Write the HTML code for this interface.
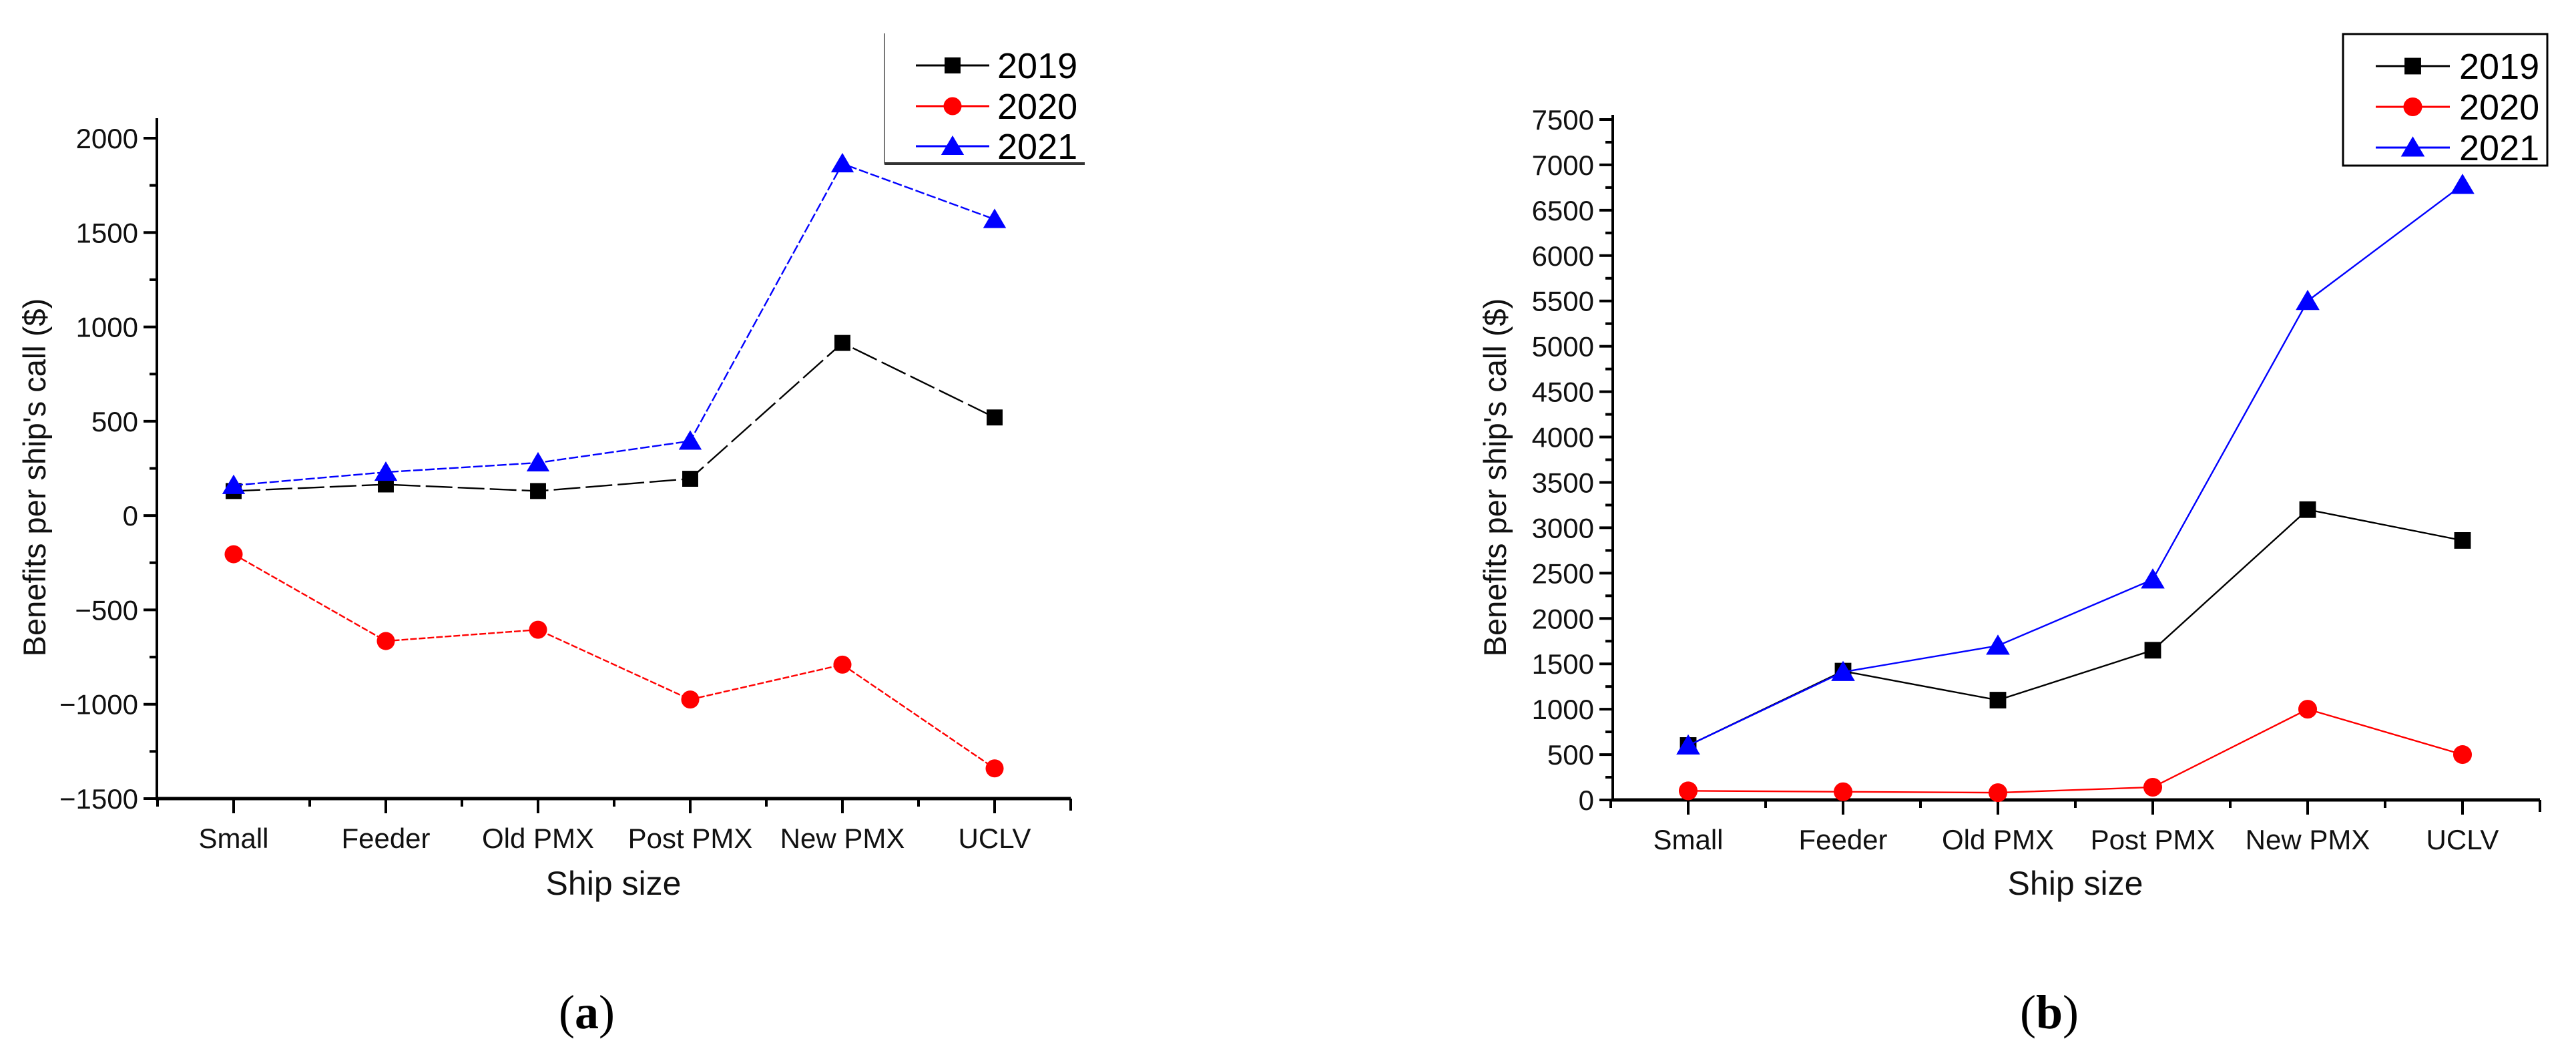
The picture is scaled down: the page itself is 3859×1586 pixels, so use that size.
<!DOCTYPE html>
<html><head><meta charset="utf-8">
<style>
html,body{margin:0;padding:0;background:#fff;}
svg{display:block;font-family:"Liberation Sans",Arial,sans-serif;}
</style></head>
<body>
<svg id="fig" width="3859" height="1586" viewBox="0 0 3859 1586" xmlns="http://www.w3.org/2000/svg"></svg>
<script>
const categories = ["Small","Feeder","Old PMX","Post PMX","New PMX","UCLV"];
const seriesNames = ["2019","2020","2021"];
// chart (a)
const a2019 = [130,165,130,195,915,520];
const a2020 = [-205,-665,-605,-975,-790,-1340];
const a2021 = [160,230,280,395,1865,1570];
const aTicks = [-1500,-1000,-500,0,500,1000,1500,2000];
const aTickLabels = ["\u22121500","\u22121000","\u2212500","0","500","1000","1500","2000"];
// chart (b)
const b2019 = [600,1420,1100,1650,3200,2860];
const b2020 = [100,90,80,140,1000,500];
const b2021 = [600,1410,1700,2430,5500,6780];
const bTicks = [0,500,1000,1500,2000,2500,3000,3500,4000,4500,5000,5500,6000,6500,7000,7500];
const bTickLabels = bTicks.map(String);

const NS="http://www.w3.org/2000/svg";
const svg=document.getElementById('fig');
function mk(tag,attrs,parent){const e=document.createElementNS(NS,tag);for(const k in attrs)e.setAttribute(k,attrs[k]);(parent||svg).appendChild(e);return e;}
const colors=["#000","#ff0000","#0000ff"];

function chart(cfg){
  const g=mk('g',{});
  
  
  const y=v=>cfg.y0+(v-cfg.vmin)*(cfg.y1-cfg.y0)/(cfg.vmax-cfg.vmin);
  const x=i=>cfg.xs+i*cfg.step;
  const xr=x(categories.length-1)+cfg.step/2;
  const ya=mk('line',{x1:cfg.ax,y1:cfg.top,x2:cfg.ax,y2:cfg.y0+2,stroke:'#000','stroke-width':4},g);
  
  
  const xa=mk('line',{x1:cfg.ax-2,y1:cfg.y0,x2:xr,y2:cfg.y0,stroke:'#000','stroke-width':5},g);
  
  
  mk('line',{x1:xr,y1:cfg.y0,x2:xr,y2:cfg.y0+18,stroke:'#000','stroke-width':4},g);
  cfg.ticks.forEach((t,i)=>{
    mk('line',{x1:cfg.ax-20,y1:y(t),x2:cfg.ax,y2:y(t),stroke:'#000','stroke-width':4},g);
    if(i<cfg.ticks.length-1){const m=(t+cfg.ticks[i+1])/2;mk('line',{x1:cfg.ax-11,y1:y(m),x2:cfg.ax,y2:y(m),stroke:'#000','stroke-width':4},g);}
    const tl=mk('text',{x:cfg.ax-28,y:y(t)+15,'text-anchor':'end','font-size':cfg.tfs,fill:'#111'},g);
    tl.textContent=cfg.labels[i];
    
    
  });
  categories.forEach((c,i)=>{
    mk('line',{x1:x(i),y1:cfg.y0,x2:x(i),y2:cfg.y0+22,stroke:'#000','stroke-width':4},g);
    mk('line',{x1:x(i)-cfg.step/2,y1:cfg.y0,x2:x(i)-cfg.step/2,y2:cfg.y0+12,stroke:'#000','stroke-width':4},g);
    const tl=mk('text',{x:x(i),y:cfg.y0+74,'text-anchor':'middle','font-size':cfg.tfs,fill:'#111'},g);
    tl.textContent=c;
    
    
  });
  const yt=mk('text',{x:0,y:0,'text-anchor':'middle','font-size':47,fill:'#111',transform:`translate(${cfg.ytx},${cfg.yty}) rotate(-90)`},g);
  yt.textContent="Benefits per ship's call ($)";
  
  
  const xt=mk('text',{x:cfg.xtx,y:1340,'text-anchor':'middle','font-size':50,fill:'#111'},g);
  xt.textContent="Ship size";
  
  
  const pl=mk('text',{x:cfg.ptx,y:1540,'text-anchor':'middle','font-size':72,fill:'#000','font-family':'"Liberation Serif",serif'},g);
  pl.innerHTML='(<tspan font-weight="bold">'+cfg.letter+'</tspan>)';
  
  
  cfg.series.forEach((s,k)=>{
    const pts=s.map((v,i)=>x(i)+','+y(v)).join(' ');
    const ln=mk('polyline',{points:pts,fill:'none',stroke:colors[k],'stroke-width':cfg.lw,'stroke-dasharray':cfg.dash[k]},g);
    
    
    s.forEach((v,i)=>{
      const m=marker(k,x(i),y(v),g,cfg.ms);
      
      
    });
  });
  const lg=mk('g',{},g);
  
  
  const L=cfg.leg;
  if(cfg.fullBox) mk('rect',{x:L.x0,y:L.y0,width:L.x1-L.x0,height:L.y1-L.y0,fill:'#fff',stroke:'#000','stroke-width':3},lg);
  else{mk('line',{x1:L.x0,y1:L.y0,x2:L.x0,y2:L.y1,stroke:'#777','stroke-width':2},lg);mk('line',{x1:L.x0,y1:L.y1,x2:L.x1,y2:L.y1,stroke:'#333','stroke-width':4},lg);}
  seriesNames.forEach((n,k)=>{
    const ey=L.ys[k];
    const e=mk('g',{},lg);
    
    
    mk('line',{x1:L.lx0,y1:ey,x2:L.lx1,y2:ey,stroke:colors[k],'stroke-width':3},e);
    marker(k,(L.lx0+L.lx1)/2,ey,e,cfg.ms);
    const t=mk('text',{x:L.tx,y:ey+19,'font-size':54,fill:'#000'},e);
    t.textContent=n;
  });
}
function marker(k,cx,cy,parent,s){
  if(k===0) return mk('rect',{x:cx-s*0.46,y:cy-s*0.46,width:s*0.92,height:s*0.92,fill:'#000'},parent);
  if(k===1) return mk('circle',{cx:cx,cy:cy,r:s*0.52,fill:'#ff0000'},parent);
  return mk('polygon',{points:`${cx},${cy-s*0.62} ${cx-s*0.66},${cy+s*0.5} ${cx+s*0.66},${cy+s*0.5}`,fill:'#0000ff'},parent);
}
chart({id:'chart-a',vmin:-1500,vmax:2000,y0:1196,y1:207,top:177,ax:235,xs:350,step:228,
  ticks:aTicks,labels:aTickLabels,tfs:42,ytx:68,yty:715,xtx:919,ptx:879,letter:'a',
  series:[a2019,a2020,a2021],lw:2.4,dash:['40,8','10,3','14,4'],ms:26,fullBox:false,
  leg:{x0:1325,x1:1625,y0:50,y1:245,ys:[98,159,219],lx0:1372,lx1:1482,tx:1494}});
chart({id:'chart-b',vmin:0,vmax:7500,y0:1198,y1:179,top:172,ax:2416,xs:2529,step:232,
  ticks:bTicks,labels:bTickLabels,tfs:42,ytx:2256,yty:715,xtx:3109,ptx:3070,letter:'b',
  series:[b2019,b2020,b2021],lw:2.4,dash:['none','none','none'],ms:27,fullBox:true,
  leg:{x0:3510,x1:3816,y0:51,y1:248,ys:[99,160,221],lx0:3559,lx1:3670,tx:3684}});
</script>
</body></html>
